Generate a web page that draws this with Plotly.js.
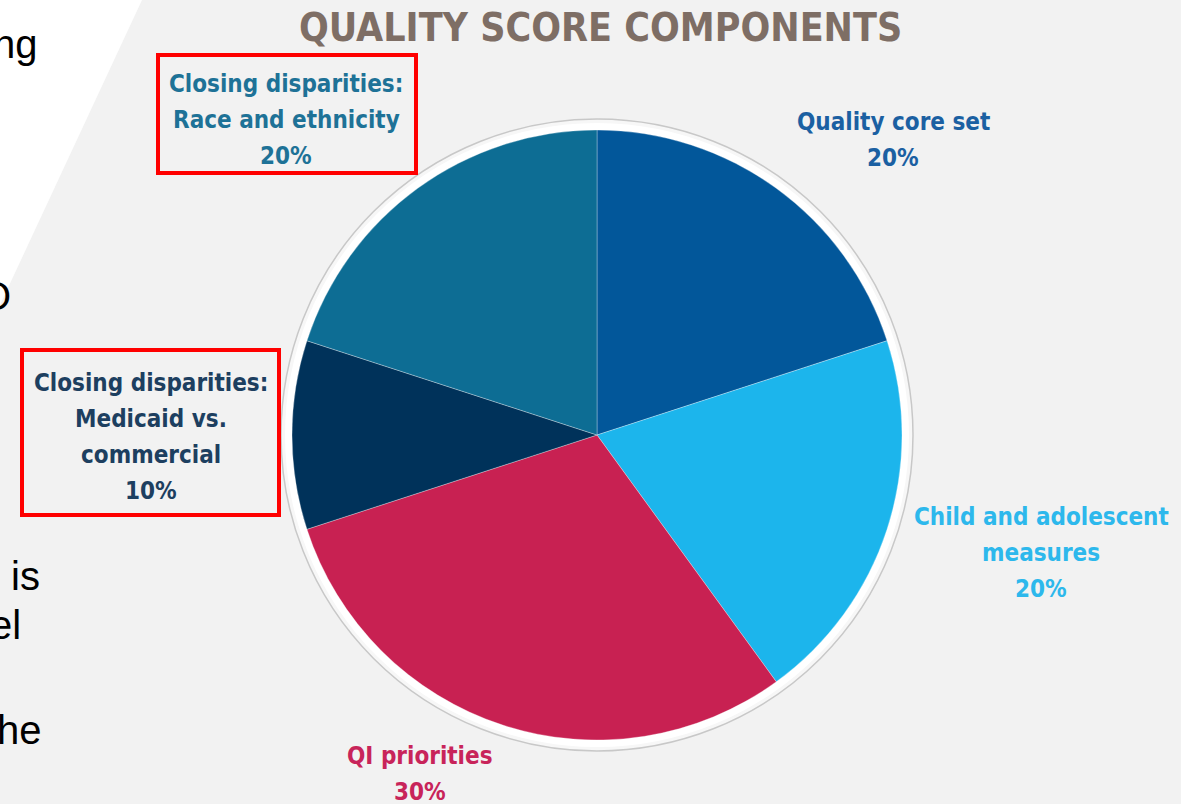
<!DOCTYPE html>
<html>
<head>
<meta charset="utf-8">
<script src="https://cdn.plot.ly/plotly-3.0.1.min.js"></script>
<style>
html,body{margin:0;padding:0;background:#f2f2f2;}
#chart{width:1181px;height:804px;}
</style>
</head>
<body>
<div id="chart"></div>
<script>
// ---- data ----
const chartTitle = "QUALITY SCORE COMPONENTS";
const categories = [
  "Quality core set",
  "Child and adolescent<br>measures",
  "QI priorities",
  "Closing disparities:<br>Medicaid vs.<br>commercial",
  "Closing disparities:<br>Race and ethnicity"
];
const shares = [20, 20, 30, 10, 20];
const sideText = ["ng", "O", "is", "el", "he"];

// ---- styles / layout ----
const W = 1181, H = 804;
const px = x => x / W;
const py = y => 1 - y / H;
const sliceColors = ["#02579a", "#1cb5ec", "#c82152", "#00325a", "#0d6d94"];
const labelColors = ["#1b60a2", "#2db8ec", "#c8245a", "#1d3f60", "#1e7297"];
const labelPos = [[893, 122], [1041, 517], [420, 756], [151, 383], [286, 84]];
const lineGap = 36;
const sidePos = [[40, 44], [13, 296], [42, 576], [23, 625], [44, 730]];
const labelFont = "'DejaVu Sans Condensed', 'DejaVu Sans', sans-serif";

const cx = 597, cy = 435, r = 305;

const annotations = [];
categories.forEach((c, i) => {
  const lines = (c + "<br>" + shares[i] + "%").split("<br>");
  lines.forEach((t, k) => {
    annotations.push({
      xref: "paper", yref: "paper",
      x: px(labelPos[i][0]), y: py(labelPos[i][1] + k * lineGap),
      xanchor: "center", yanchor: "middle",
      text: t, showarrow: false,
      font: {family: labelFont, size: 24, color: labelColors[i], weight: "bold"}
    });
  });
});
sideText.forEach((t, i) => {
  annotations.push({
    xref: "paper", yref: "paper",
    x: px(sidePos[i][0]), y: py(sidePos[i][1]),
    xanchor: "right", yanchor: "middle",
    text: t, showarrow: false,
    font: {family: "'Liberation Sans', Arial, sans-serif", size: 40, color: "#000000"}
  });
});
annotations.push({
  xref: "paper", yref: "paper", x: px(600), y: py(27),
  xanchor: "center", yanchor: "middle", text: chartTitle, showarrow: false,
  font: {family: labelFont, size: 39, color: "#7e6e65", weight: "bold"}
});

const shapes = [
  {type: "path", xref: "paper", yref: "paper", layer: "below",
   path: `M 0 1 L ${px(142)} 1 L 0 ${py(305)} Z`, fillcolor: "#ffffff", line: {width: 0}},
  {type: "circle", xref: "paper", yref: "paper", layer: "below",
   x0: px(cx - r - 11), x1: px(cx + r + 11), y0: py(cy + r + 11), y1: py(cy - r - 11),
   fillcolor: "#f7f7f7", line: {color: "#c8c8c8", width: 1.5}},
  {type: "circle", xref: "paper", yref: "paper", layer: "below",
   x0: px(cx - r - 7), x1: px(cx + r + 7), y0: py(cy + r + 7), y1: py(cy - r - 7),
   fillcolor: "#ffffff", line: {width: 0}},
  {type: "rect", xref: "paper", yref: "paper",
   x0: px(158), x1: px(416), y0: py(173), y1: py(55),
   line: {color: "#ff0000", width: 4}},
  {type: "rect", xref: "paper", yref: "paper",
   x0: px(22), x1: px(279), y0: py(515), y1: py(350),
   line: {color: "#ff0000", width: 4}}
];

const trace = {
  type: "pie",
  labels: categories,
  values: shares,
  sort: false,
  direction: "clockwise",
  rotation: 0,
  textinfo: "none",
  hoverinfo: "label+percent",
  marker: {colors: sliceColors, line: {color: "rgba(255,255,255,0.3)", width: 1}},
  domain: {x: [px(cx - r), px(cx + r)], y: [py(cy + r), py(cy - r)]},
  showlegend: false
};

const layout = {
  width: W, height: H,
  margin: {l: 0, r: 0, t: 0, b: 0},
  paper_bgcolor: "#f2f2f2",
  plot_bgcolor: "#f2f2f2",
  showlegend: false,
  annotations: annotations,
  shapes: shapes
};

Plotly.newPlot("chart", [trace], layout, {displayModeBar: false, staticPlot: true});
</script>
</body>
</html>
